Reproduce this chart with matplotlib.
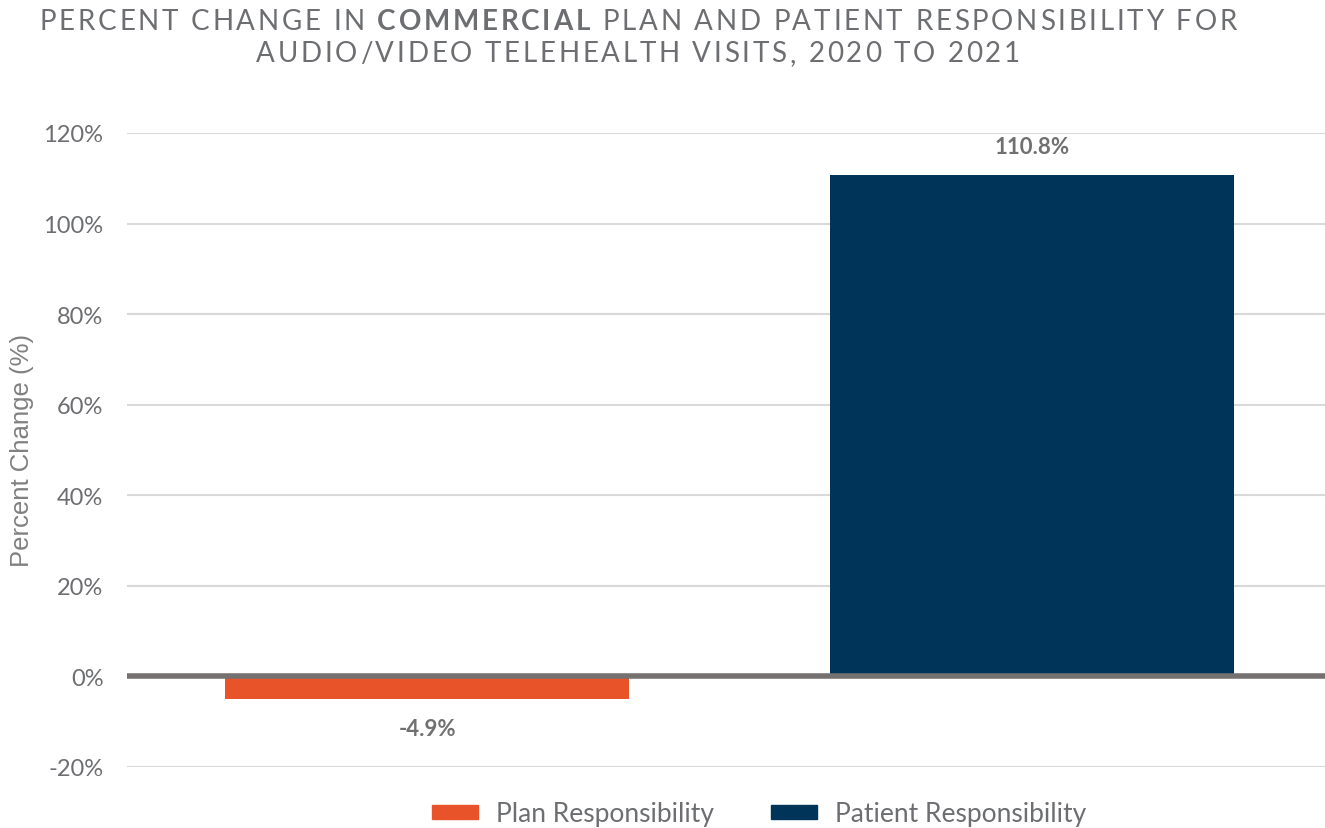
import matplotlib
matplotlib.use("Agg")
import matplotlib.pyplot as plt
from matplotlib.patches import Patch

categories = ["Plan Responsibility", "Patient Responsibility"]
values = [-4.9, 110.8]
labels = ["-4.9%", "110.8%"]
colors = ["#E9532A", "#003459"]
yticks = [-20, 0, 20, 40, 60, 80, 100, 120]
title_line1 = [("PERCENT CHANGE IN ", "normal"), ("COMMERCIAL", "bold"),
               (" PLAN AND PATIENT RESPONSIBILITY FOR", "normal")]
title_line2 = [("AUDIO/VIDEO TELEHEALTH VISITS, 2020 TO 2021", "normal")]

TEXT = "#6D6E71"
plt.rcParams["font.family"] = ["Lato", "DejaVu Sans"]

W, H = 1325, 829
fig = plt.figure(figsize=(W / 100, H / 100), dpi=100)
ax = fig.add_axes([127 / W, 1 - 768 / H, 1 - 127 / W, (768 - 134) / H])

x = list(range(len(values)))
ax.bar(x, values, width=0.668, color=colors, zorder=2)
ax.set_xlim(-0.496, 1.484)
ax.set_ylim(-20, 120)
ax.set_yticks(yticks)
ax.set_yticklabels([f"{t}%" for t in yticks])
ax.set_xticks([])
ax.tick_params(axis="y", length=0, pad=17, labelsize=17, labelcolor=TEXT)
ax.yaxis.grid(True, color="#D9D9D9", linewidth=1.5, zorder=0)
ax.set_axisbelow(True)
for s in ax.spines.values():
    s.set_visible(False)
ax.axhline(0, color="#767171", linewidth=4, zorder=3)
fig.text(22 / W, 1 - 450 / H, "Percent Change (%)", rotation=90, fontsize=18.5,
         family="Liberation Sans", color="#808080", ha="center", va="center")

for xi, v, lab in zip(x, values, labels):
    off, va = ((0, 13), "bottom") if v >= 0 else ((0, -14), "top")
    ax.annotate(lab, (xi, v), xytext=off, textcoords="offset points",
                ha="center", va=va, fontsize=16, fontweight="bold", color="#707070")

# title: tracked capitals, one bold word
renderer = fig.canvas.get_renderer()
TRACK = 2.75
TSIZE = 20


def text_width(s, wt):
    t = fig.text(0, 0, s + "I", fontsize=TSIZE, fontweight=wt)
    r = fig.text(0, 0, "I", fontsize=TSIZE, fontweight=wt)
    w = t.get_window_extent(renderer).width - r.get_window_extent(renderer).width
    t.remove()
    r.remove()
    return w


def tracked_line(parts, cx, baseline):
    layout = []
    pos = 0.0
    for txt, wt in parts:
        for i, ch in enumerate(txt):
            layout.append((pos + text_width(txt[:i], wt) if i else pos, ch, wt))
        pos += text_width(txt, wt)
    n = len(layout)
    total = pos + TRACK * (n - 1)
    x0 = cx - total / 2
    for k, (px, ch, wt) in enumerate(layout):
        if ch != " ":
            fig.text((x0 + px + TRACK * k) / W, 1 - baseline / H, ch, fontsize=TSIZE,
                     fontweight=wt, color=TEXT, ha="left", va="baseline")


tracked_line(title_line1, 638, 30)
tracked_line(title_line2, 638, 62)

handles = [Patch(color=c, label=l) for c, l in zip(colors, categories)]
fig.legend(handles=handles, loc="center left", bbox_to_anchor=(432 / W, 1 - 815 / H),
           ncol=2, frameon=False, fontsize=19, labelcolor=TEXT, borderpad=0,
           borderaxespad=0, handlelength=1.75, handleheight=0.45,
           columnspacing=2.15, handletextpad=0.68)

fig.savefig("out.png", dpi=100)
